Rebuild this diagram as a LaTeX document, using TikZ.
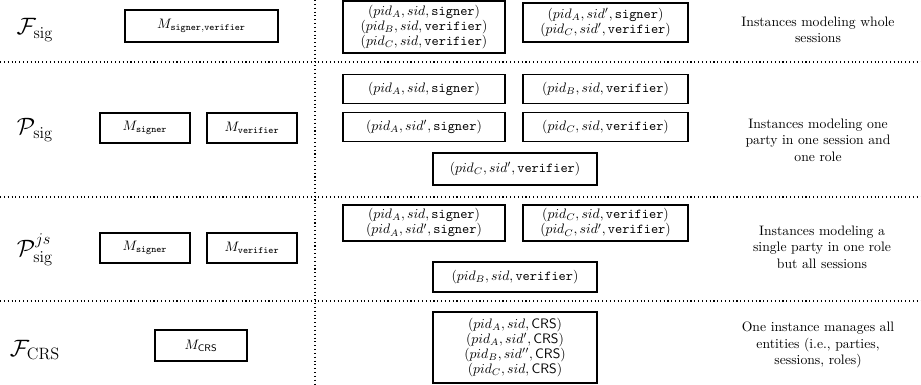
\documentclass[tikz,border=0pt]{standalone}
\usepackage{amsmath}
\usepackage{amssymb}
\begin{document}
\begin{tikzpicture}[x=0.73pt, y=-0.73pt,
    box/.style 2 args={draw, thick, inner sep=0pt, align=center,
      minimum width=#1*0.73pt, minimum height=#2*0.73pt,
      font=\fontsize{10}{9.6}\selectfont},
    rowlabel/.style={font=\LARGE},
    note/.style={align=center}]
      \useasboundingbox (0,0) rectangle (921,384);

      \draw[thick, dotted] (0, 62) -- (921, 62);
      \draw[thick, dotted] (0,197) -- (921,197);
      \draw[thick, dotted] (0,301) -- (921,301);
      \draw[thick, dotted] (315,0) -- (315,384);

      \node[rowlabel](Fsig) at (35, 30){$\mathcal{F}_{\mathrm{sig}}$};
      \node[rowlabel](Psig) at (35,130){$\mathcal{P}_{\mathrm{sig}}$};
      \node[rowlabel](Pjs)  at (35,250){$\mathcal{P}^{js}_{\mathrm{sig}}$};
      \node[rowlabel](Fcrs) at (35,350){$\mathcal{F}_{\mathrm{CRS}}$};

      \node[box={153}{32}](Msv) at (201.5, 26){$M_{\texttt{signer},\texttt{verifier}}$};
      \foreach \y\n in {128/P,248/J} {
        \node[box={90}{30}](Ms\n) at (145,\y){$M_{\texttt{signer}}$};
        \node[box={90}{30}](Mv\n) at (252,\y){$M_{\texttt{verifier}}$};
      }
      \node[box={92}{31}](Mcrs) at (201,345.5){$M_{\textsf{CRS}}$};

      \node[box={162}{52}](F1) at (424, 27){$(pid_A, sid, \texttt{signer})$\\$(pid_B, sid, \texttt{verifier})$\\$(pid_C, sid, \texttt{verifier})$};
      \node[box={165}{39}](F2) at (605.5, 22.5){$(pid_A, sid', \texttt{signer})$\\$(pid_C, sid', \texttt{verifier})$};

      \node[box={162}{29}](P1) at (424, 89){$(pid_A, sid, \texttt{signer})$};
      \node[box={165}{29}](P2) at (605.5, 89){$(pid_B, sid, \texttt{verifier})$};
      \node[box={162}{29}](P3) at (424,127){$(pid_A, sid', \texttt{signer})$};
      \node[box={165}{29}](P4) at (605.5,127){$(pid_C, sid, \texttt{verifier})$};
      \node[box={164}{32}](P5) at (515,169){$(pid_C, sid', \texttt{verifier})$};

      \node[box={162}{36}](J1) at (424,223){$(pid_A, sid, \texttt{signer})$\\$(pid_A, sid', \texttt{signer})$};
      \node[box={165}{36}](J2) at (605.5,223){$(pid_C, sid, \texttt{verifier})$\\$(pid_C, sid', \texttt{verifier})$};
      \node[box={164}{30}](J3) at (515,277){$(pid_B, sid, \texttt{verifier})$};

      \node[box={164}{71}, font=\fontsize{10}{9}\selectfont](C1) at (515,347.5){$(pid_A, sid, \textsf{CRS})$\\$(pid_A, sid', \textsf{CRS})$\\$(pid_B, sid'', \textsf{CRS})$\\$(pid_C, sid, \textsf{CRS})$};

      \node[note](Tf) at (818, 30){Instances modeling whole\\sessions};
      \node[note](Tp) at (818,140){Instances modeling one\\party in one session and\\one role};
      \node[note](Tj) at (822,247){Instances modeling a\\single party in one role\\but all sessions};
      \node[note](Tc) at (818,345){One instance manages all\\entities (i.e., parties,\\sessions, roles)};
    \end{tikzpicture}
\end{document}
